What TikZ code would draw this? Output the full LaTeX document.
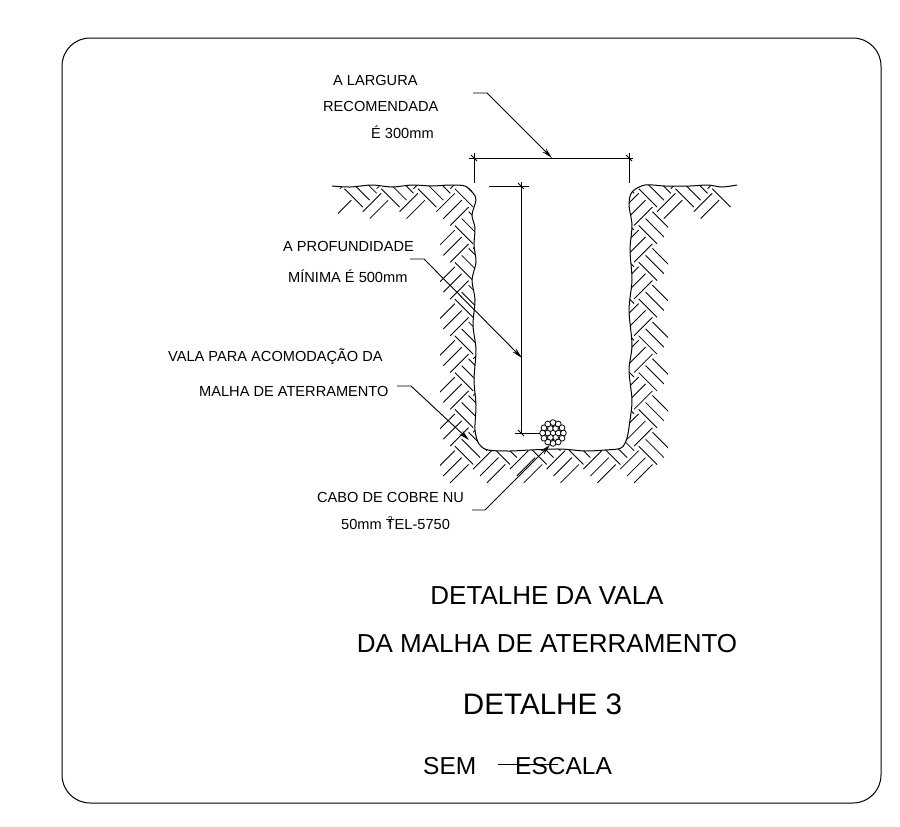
\documentclass[tikz,border=0pt]{standalone}
\usepackage{fontspec}
\setmainfont{Liberation Sans}
\usetikzlibrary{arrows.meta}
\tikzset{
  small label/.style={font=\fontsize{14.6}{16}\selectfont,anchor=base west,inner sep=0pt},
  title label/.style={font=\fontsize{26}{28}\selectfont,anchor=base,inner sep=0pt},
  leader/.style={line width=0.9pt,-{Stealth[length=11pt,width=5pt]}},
  dim/.style={line width=1pt},
  hatch/.style={line width=0.85pt}
}
% size of one hatch cell, and the earth profile
\def\cellw{26}
\def\earthline{plot[smooth,tension=.5] coordinates {(332,186) (350,187) (372,185) (392,187) (412,185) (432,186) (450,185) (465,186) (473,193) (476,200) (472,215) (475,228) (474,245) (476,262) (472,280) (475,300) (473,325) (476,350) (474,380) (476,405) (475,430) (479,444) (488,450) (510,451) (530,450) (560,449) (585,451) (605,450) (621,448) (627,438) (630,420) (632,400) (629,370) (632,345) (629,310) (632,280) (630,250) (632,225) (629,205) (632,192) (645,185) (665,186) (690,186) (708,185) (722,187) (737,185)}}
% one hatch line between two cell coordinates, kept if its middle lies in the soil band
\newcommand\hatchline[4]{
  \pgfmathsetmacro\mx{344.5+(#1+#2+#3+#4)*.35355}
  \pgfmathsetmacro\my{188.7+(#1-#2+#3-#4)*.35355}
  \pgfmathparse{((\mx>341&&\mx<728&&\my<216)||(\mx>444&&\mx<662&&\my<477))?1:0}
  \ifnum\pgfmathresult=1
    \draw[hatch] ({344.5+(#1+#2)*.7071},{188.7+(#1-#2)*.7071}) -- ({344.5+(#3+#4)*.7071},{188.7+(#3-#4)*.7071});
  \fi
}
\begin{document}
\begin{tikzpicture}[x=1pt,y=-1pt]
  \useasboundingbox (0,0) rectangle (900,827);
  \draw[line width=1pt,rounded corners=28pt] (62,38) rectangle (881,803);

  % soil
  \begin{scope}
    \clip \earthline -- (737,520) -- (332,520) -- cycle;
    \clip (338,180) -- (738,180) -- (738,220) -- (668,220) -- (668,484) -- (440,484) -- (440,220) -- (338,220) -- cycle;
    \foreach \i in {-1,...,11}
      \foreach \j in {-1,...,8} {
        \pgfmathsetmacro\az{(\i+\j)*\cellw}
        \pgfmathsetmacro\bz{(\i-\j)*\cellw}
        \foreach \k in {0,1,2} {
          \pgfmathsetmacro\bk{\bz+\cellw*.375*\k}
          \pgfmathsetmacro\atwo{\az+\cellw}
          \hatchline{\az}{\bk}{\atwo}{\bk}
          \pgfmathsetmacro\ak{\az+\cellw*(.125+.375*\k)}
          \pgfmathsetmacro\bone{\bz+\cellw*.875}
          \pgfmathsetmacro\btwo{\bz+\cellw*1.875}
          \hatchline{\ak}{\bone}{\ak}{\btwo}
        }
      }
  \end{scope}
  \draw[line width=1pt] \earthline;

  % cable
  \coordinate (cable) at (553,433);
  \draw[fill=white,line width=.8pt] (cable) circle (2.9);
  \foreach \a in {0,60,...,300}
    \draw[fill=white,line width=.8pt] (cable) ++(\a:5.2) circle (2.9);
  \foreach \a in {0,30,...,330}
    \draw[fill=white,line width=.8pt] (cable) ++(\a:10.4) circle (2.9);

  % width and depth
  \coordinate (wl) at (474,158);
  \coordinate (wr) at (629,158);
  \coordinate (dt) at (521,186);
  \coordinate (db) at (521,433);
  \draw[dim] (469,158) -- (633,158);
  \draw[dim] (474,153) -- (474,183);
  \draw[dim] (629,153) -- (629,183);
  \draw[dim] (471,155) -- (477,161);
  \draw[dim] (626,155) -- (632,161);
  \draw[dim] (489,186) -- (529,186);
  \draw[dim] (521,182) -- (db);
  \draw[dim] (515,433) -- (540,433);
  \draw[dim] (518,183) -- (524,189);
  \draw[dim] (518,430) -- (524,436);

  % leaders
  \coordinate (wtip) at (552,158);
  \coordinate (dtip) at (522,358);
  \coordinate (vtip) at (469,440);
  \coordinate (ctip) at (550,445);
  \draw[leader] (473,93) -- (487,93) -- (wtip);
  \draw[leader] (410,259) -- (424,259) -- (dtip);
  \draw[leader] (397,386) -- (411,386) -- (vtip);
  \draw[leader] (472,510) -- (485,510) -- (ctip);

  % texts
  \node[small label] (largura1) at (333,85) {A LARGURA};
  \node[small label] (largura2) at (323,111) {RECOMENDADA};
  \node[small label] (largura3) at (371,138) {É 300mm};
  \node[small label] (prof1) at (283,251) {A PROFUNDIDADE};
  \node[small label] (prof2) at (288,282) {MÍNIMA É 500mm};
  \node[small label] (vala1) at (168,361) {VALA PARA ACOMODAÇÃO DA};
  \node[small label] (vala2) at (199,396) {MALHA DE ATERRAMENTO};
  \node[small label] (cabo1) at (317,502) {CABO DE COBRE NU};
  \node[small label] (cabo2) at (341,529) {50mm \rlap{\raisebox{6.5pt}{\fontsize{8.5}{9}\selectfont\hspace{2pt}2}}TEL-5750};
  \node[title label] (tit1) at (547,604) {DETALHE DA VALA};
  \node[title label] (tit2) at (547,652) {DA MALHA DE ATERRAMENTO};
  \node[title label,font=\fontsize{29.6}{32}\selectfont] (tit3) at (542.5,714) {DETALHE 3};
  \node[small label,font=\fontsize{24.5}{28}\selectfont] (sem) at (423,774) {SEM};
  \node[small label,font=\fontsize{24.5}{28}\selectfont] (escala) at (515,774) {ESCALA};
  \draw[line width=1pt] (498,764) -- (558,764);
\end{tikzpicture}
\end{document}
